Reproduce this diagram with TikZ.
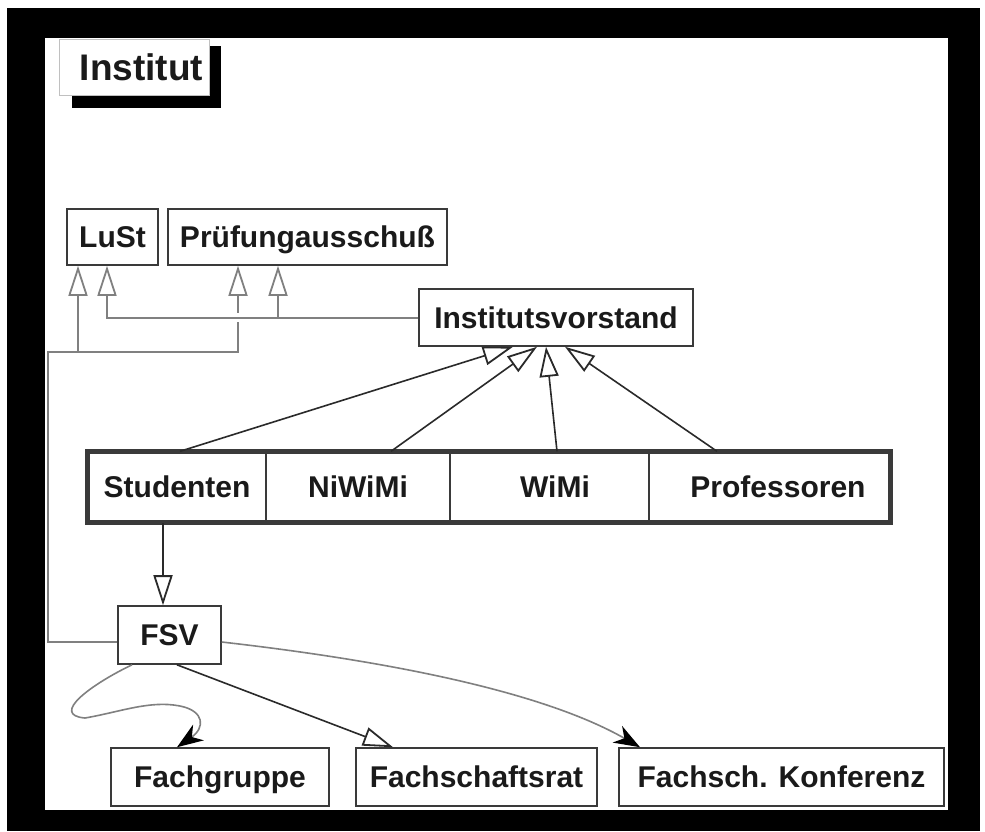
\documentclass[tikz,border=0pt]{standalone}
\usepackage{fontspec}
\setmainfont{Liberation Sans}
\usetikzlibrary{arrows.meta,calc}
\definecolor{boxc}{HTML}{3A3A3A}
\definecolor{gline}{HTML}{808080}
\definecolor{dline}{HTML}{2A2A2A}
\definecolor{txt}{HTML}{1A1A1A}
\definecolor{lgray}{HTML}{C0C0C0}
\begin{document}
\begin{tikzpicture}[x=1pt,y=-1pt,
  box/.style={draw=boxc, line width=1.6pt, fill=white, inner sep=0pt,
    minimum height=57pt, text height=21.5pt, text depth=0pt,
    font=\fontsize{30}{36}\selectfont\bfseries, text=txt},
  cell/.style={box, line width=1.4pt, minimum height=70pt},
  oarr/.style={-{Triangle[open, length=30pt, width=19pt, line width=1.8pt]}},
  farr/.style={-{Stealth[length=26pt, width=19pt, inset=8pt, color=black]}},
  gl/.style={draw=gline, line width=2pt},
  dl/.style={draw=dline, line width=1.6pt}
]
\useasboundingbox (0,0) rectangle (985,831);
\fill[black] (7,8) rectangle (980,831);
\fill[white] (45,38) rectangle (948,810);

% title
\fill[black] (72,46) rectangle (221,108);
\node[box, draw=lgray, line width=1pt, minimum width=150pt, minimum height=56pt,
  font=\fontsize{37}{44}\selectfont\bfseries, text height=26.5pt] (inst) at (134,67) {\hspace*{15pt}Institut};

% nodes
\node[box, minimum width=91pt, minimum height=56pt] (lust) at (112.5,237) {LuSt};
\node[box, minimum width=279pt, minimum height=56pt] (prue) at (307.5,237) {Prüfungausschuß};
\node[box, minimum width=274pt] (vorst) at (556,317.5) {Institutsvorstand};

\node[cell, minimum width=178pt] (stud) at (177,487) {Studenten};
\node[cell, minimum width=184pt] (niwi) at (358,487) {NiWiMi};
\node[cell, minimum width=199pt] (wimi) at (549.5,487) {\hspace*{11pt}WiMi};
\node[cell, minimum width=241pt] (prof) at (769.5,487) {\hspace*{17pt}Professoren};
\draw[line width=4.5pt, draw=boxc] (stud.north west) rectangle (prof.south east);

\node[box, minimum width=103pt, minimum height=58pt] (fsv) at (169.5,635) {FSV};
\node[box, minimum width=218pt, minimum height=58pt] (fgr) at (220,777) {Fachgruppe};
\node[box, minimum width=241pt, minimum height=58pt] (frat) at (476.5,777) {Fachschaftsrat};
\node[box, minimum width=325pt, minimum height=58pt] (konf) at (781.5,777) {Fachsch. Konferenz};

% bend points
\coordinate (b1) at (48,351.7);
\coordinate (b2) at (238,351.7);
\coordinate (b3) at (78,351.7);
\coordinate (b4) at (107,317.5);
\coordinate (b5) at (278,317.5);

% FSV -> LuSt / Pruefungsausschuss
\draw[gl, oarr] ([yshift=-7pt]fsv.west) -| (b1) -- (b2) -- ([xshift=-69.5pt]prue.south);
\draw[gl, oarr] (b3) -- ([xshift=-34.5pt]lust.south);
% crossing gap
\draw[white, line width=9pt] (228,317.5) -- (248,317.5);
% Institutsvorstand -> LuSt / Pruefungsausschuss
\draw[gl, oarr] (vorst.west) -- (b4) -- ([xshift=-5.5pt]lust.south);
\draw[gl, oarr] (b5) -- ([xshift=-29.5pt]prue.south);

% row -> Institutsvorstand
\draw[dl, oarr] ([xshift=3pt]stud.north) -- ([xshift=-43pt]vorst.south);
\draw[dl, oarr] ([xshift=33pt]niwi.north) -- ([xshift=-19pt]vorst.south);
\draw[dl, oarr] ([xshift=7.5pt]wimi.north) -- ([xshift=-10pt]vorst.south);
\draw[dl, oarr] ([xshift=-52.5pt]prof.north) -- ([xshift=9pt]vorst.south);

% Studenten -> FSV
\draw[dl, oarr] ([xshift=-14pt]stud.south) -- ([xshift=-6.5pt]fsv.north);

% FSV -> bottom
\draw[dl, oarr] ([xshift=7.5pt]fsv.south) -- ([xshift=-83.5pt]frat.north);
\draw[gl, line width=1.6pt, farr] ([xshift=-37.5pt]fsv.south) .. controls (90,685) and (50,715) .. (85,718)
  .. controls (120,712) and (150,700) .. (180,706)
  .. controls (205,711) and (205,728) .. ([xshift=-43pt]fgr.north);
\draw[gl, line width=1.6pt, farr] ([yshift=-7pt]fsv.east) .. controls (380,660) and (540,690) .. ([xshift=-141.5pt]konf.north);
\end{tikzpicture}
\end{document}
